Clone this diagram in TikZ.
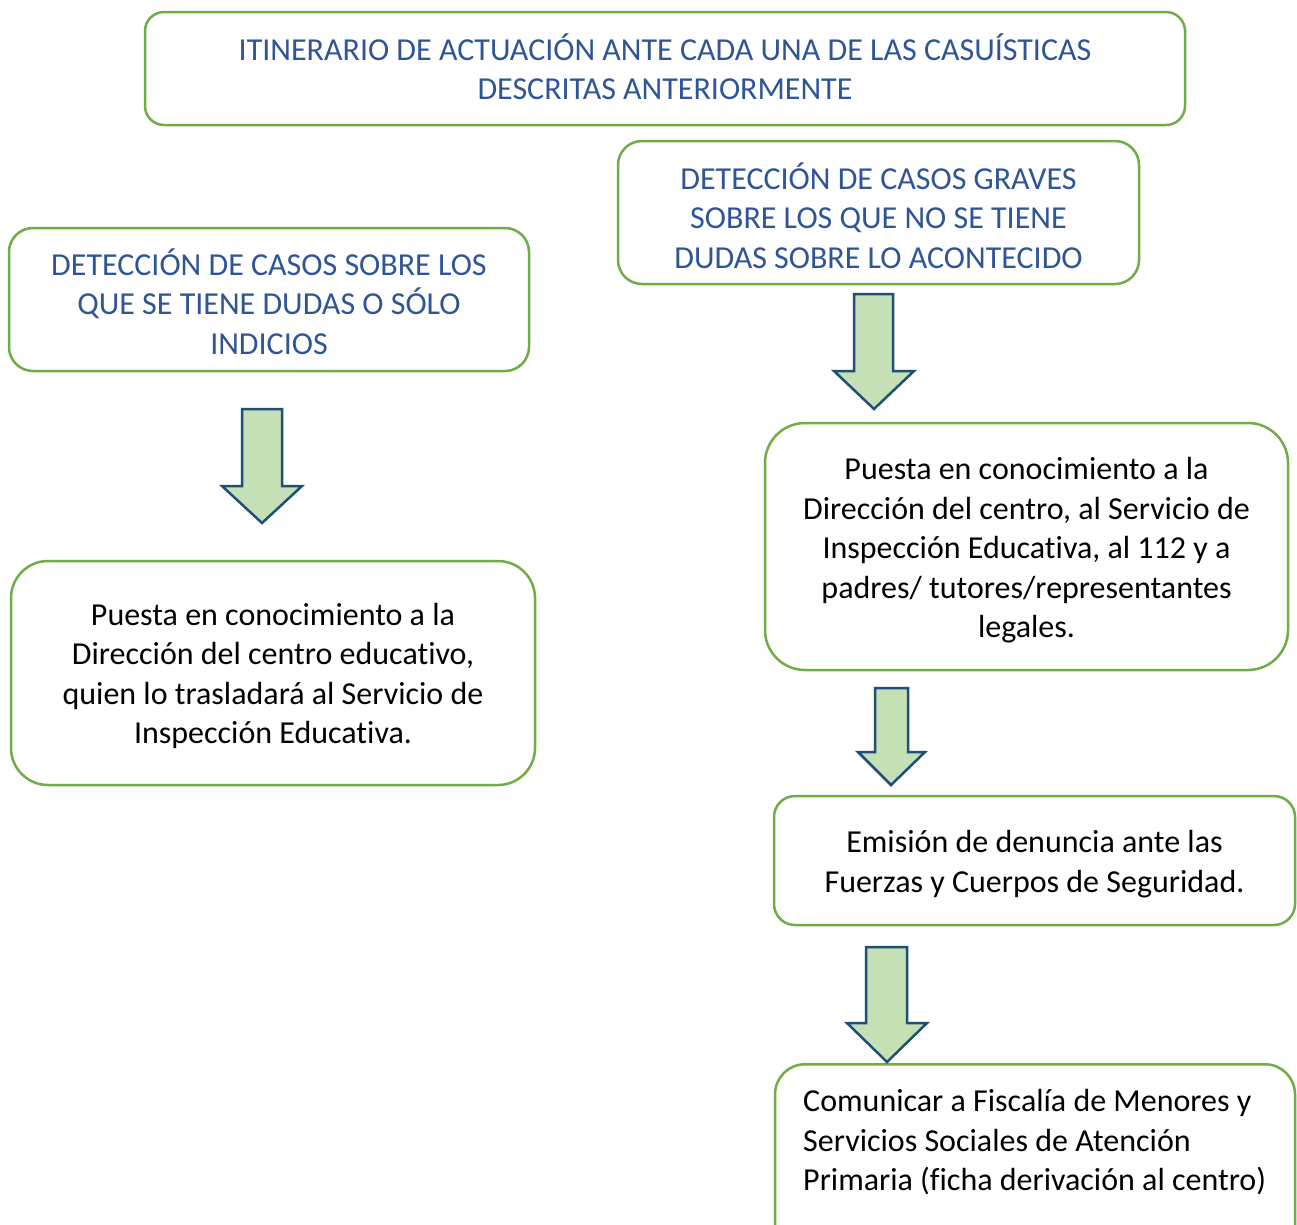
\documentclass[tikz,border=0pt]{standalone}
\usepackage{fontspec}
\setmainfont{Carlito}[Ligatures={NoCommon,NoContextual}]
\definecolor{boxgreen}{HTML}{70AD47}
\definecolor{titleblue}{HTML}{2F5597}
\definecolor{arrowfill}{HTML}{C5E0B4}
\definecolor{arrowline}{HTML}{1F4E79}
\begin{document}
\begin{tikzpicture}[x=1pt,y=-1pt,
  box/.style={draw=boxgreen, line width=2.5pt, inner sep=0pt},
  boxtext/.style={align=center, inner sep=0pt, font=\fontsize{32}{39.5}\selectfont},
  bluetext/.style={boxtext, text=titleblue},
  blacktext/.style={boxtext, text=black},
  blockarrow/.style={fill=arrowfill, draw=arrowline, line width=2.5pt, line join=miter}]
\path[use as bounding box, clip] (0,0) rectangle (1297,1224);
\fill[white] (0,0) rectangle (1297,1224);

% frames
\node[box, rounded corners=19pt, minimum width=1040pt, minimum height=113pt] (title) at (665,68.5) {};
\node[box, rounded corners=24pt, minimum width=521pt, minimum height=143pt] (graves) at (878.5,212.5) {};
\node[box, rounded corners=24pt, minimum width=520pt, minimum height=143pt] (dudas) at (269,299.5) {};
\node[box, rounded corners=37pt, minimum width=524pt, minimum height=224pt] (direccion) at (273,673) {};
\node[box, rounded corners=40pt, minimum width=523pt, minimum height=247pt] (conocimiento) at (1026.5,546.5) {};
\node[box, rounded corners=21pt, minimum width=521pt, minimum height=129pt] (denuncia) at (1034.5,860.5) {};
\node[box, rounded corners=30pt, minimum width=520pt, minimum height=230pt, anchor=north] (comunicar) at (1035,1063) {};

% texts
\node[bluetext] (titletext) at (665,66.5)
  {ITINERARIO DE ACTUACIÓN ANTE CADA UNA DE LAS CASUÍSTICAS\\DESCRITAS ANTERIORMENTE};
\node[bluetext] (gravestext) at (878.5,215.5)
  {DETECCIÓN DE CASOS GRAVES\\SOBRE LOS QUE NO SE TIENE\\DUDAS SOBRE LO ACONTECIDO};
\node[bluetext] (dudastext) at (269,301.5)
  {DETECCIÓN DE CASOS SOBRE LOS\\QUE SE TIENE DUDAS O SÓLO\\INDICIOS};
\node[blacktext] (direcciontext) at (273,676)
  {Puesta en conocimiento a la\\Dirección del centro educativo,\\quien lo trasladará al Servicio de\\Inspección Educativa.};
\node[blacktext] (conocimientotext) at (1026.5,550.5)
  {Puesta en conocimiento a la\\Dirección del centro, al Servicio de\\Inspección Educativa, al 112 y a\\padres/ tutores/representantes\\legales.};
\node[blacktext] (denunciatext) at (1034.5,864)
  {Emisión de denuncia ante las\\Fuerzas y Cuerpos de Seguridad.};
\node[blacktext, align=left, anchor=north west] (comunicartext) at (803,1084)
  {\strut Comunicar a Fiscalía de Menores y\\Servicios Sociales de Atención\\Primaria (ficha derivación al centro)};

% block arrows
\draw[blockarrow] (242,409) -- (282,409) -- (282,486) -- (302,486) -- (262,523) -- (222,486) -- (242,486) -- cycle;
\draw[blockarrow] (854,294) -- (893,294) -- (893,371) -- (914,371) -- (874,409) -- (834,371) -- (854,371) -- cycle;
\draw[blockarrow] (875,688) -- (908,688) -- (908,752) -- (925,752) -- (891,785) -- (858,752) -- (875,752) -- cycle;
\draw[blockarrow] (866,947) -- (907,947) -- (907,1023) -- (927,1023) -- (887,1062) -- (847,1023) -- (866,1023) -- cycle;
\end{tikzpicture}
\end{document}
